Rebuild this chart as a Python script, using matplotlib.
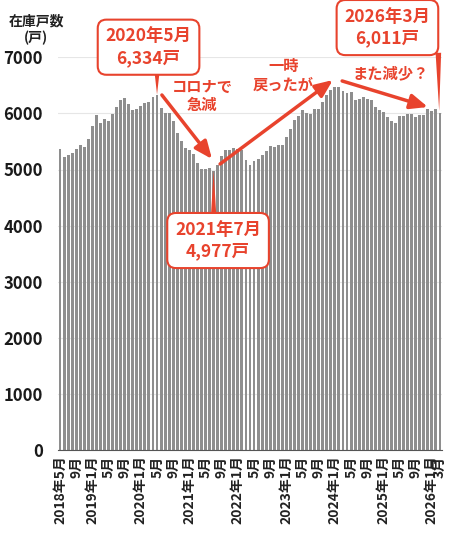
import matplotlib
matplotlib.use('Agg')
import matplotlib.pyplot as plt
import pandas as pd

plt.rcParams['font.family'] = ['Noto Sans CJK JP', 'DejaVu Sans']

# monthly inventory (units), 2018-05 .. 2026-03
months = pd.period_range('2018-05', '2026-03', freq='M')
stock = [5363, 5214, 5250, 5298, 5363, 5440, 5393, 5542, 5768, 5970, 5821, 5899,
         5863, 5982, 6113, 6238, 6280, 6161, 6060, 6077, 6125, 6185, 6202, 6298,
         6334, 6100, 6015, 6015, 5860, 5650, 5500, 5380, 5340, 5280, 5110, 5010,
         5010, 5025, 4977, 5089, 5235, 5350, 5350, 5390, 5360, 5350, 5167, 5077,
         5155, 5179, 5253, 5333, 5417, 5393, 5435, 5435, 5583, 5714, 5881, 5946,
         6060, 6000, 5988, 6083, 6083, 6202, 6327, 6420, 6476, 6464, 6400, 6360,
         6387, 6238, 6250, 6298, 6250, 6238, 6119, 6060, 6024, 5929, 5869, 5833,
         5958, 5958, 5988, 5988, 5940, 5970, 5970, 6071, 6042, 6077, 6011]

tick_idx = list(range(0, 93, 4)) + [94]
RED = '#e8432d'


def month_label(i):
    p = months[i]
    if i == 0 or p.month == 1:
        return f'{p.year}年{p.month}月'
    return f'{p.month}月'


fig = plt.figure(figsize=(4.5, 5.36), dpi=100)
ax = fig.add_axes([58 / 450, 86 / 536, 384 / 450, 392.7 / 536])

ax.bar(range(len(stock)), stock, width=0.72, color='#8e8e8e', zorder=2)
ax.set_xlim(-0.5, len(stock) - 0.5)
ax.set_ylim(0, 7000)
ax.set_yticks(range(0, 7001, 1000))
ax.yaxis.grid(True, color='#e6e6e6', lw=0.8)
ax.set_axisbelow(True)
for s in ['top', 'right', 'left']:
    ax.spines[s].set_visible(False)
ax.spines['bottom'].set_color('#555555')

ax.set_xticks(tick_idx)
ax.set_xticklabels([month_label(i) for i in tick_idx], rotation=90,
                   fontsize=10, fontweight='bold', color='#222222')
ax.tick_params(axis='x', length=0, pad=4)
ax.tick_params(axis='y', length=0, pad=11, labelsize=12, labelcolor='#1a1a1a')
for t in ax.get_yticklabels():
    t.set_fontweight('bold')

fig.text(36 / 450, 1 - 30 / 536, '在庫戸数\n(戸)', ha='center', va='center',
         fontsize=10, fontweight='bold', color='#222222', linespacing=1.15)


def callout(tx, ty, s, tail_from, tail_to):
    ax.annotate('', xy=tail_to, xytext=tail_from, annotation_clip=False,
                arrowprops=dict(arrowstyle='wedge,tail_width=0.4,shrink_factor=0.5',
                                color=RED, lw=0, shrinkA=0, shrinkB=0), zorder=4)
    ax.text(tx, ty, s, ha='center', va='center', fontsize=12.5, fontweight='bold',
            color=RED, linespacing=1.25, clip_on=False, zorder=6,
            bbox=dict(boxstyle='round,pad=0.45,rounding_size=0.5', fc='white',
                      ec=RED, lw=1.5))


def red_arrow(start, tip):
    ax.annotate('', xy=tip, xytext=start, annotation_clip=False,
                arrowprops=dict(arrowstyle='-|>,head_length=0.75,head_width=0.32',
                                color=RED, lw=2.5, mutation_scale=14,
                                shrinkA=0, shrinkB=0), zorder=5)


peak = 24
low = 38
last = len(stock) - 1

callout(21.9, 7180, f'{months[peak].year}年{months[peak].month}月\n{stock[peak]:,}戸',
        (peak, 6780), (peak, stock[peak]))
callout(39.1, 3734, f'{months[low].year}年{months[low].month}月\n{stock[low]:,}戸',
        (low, 4150), (low, stock[low]))
callout(81.0, 7530, f'{months[last].year}年{months[last].month}月\n{stock[last]:,}戸',
        (93.6, 7080), (93.8, stock[last] + 30))

red_arrow((25.2, 6328), (37.6, 5187))
red_arrow((39.6, 5098), (67.5, 6595))
red_arrow((69.8, 6578), (91.0, 6114))

ax.text(35.1, 6310, 'コロナで\n急減', ha='center', va='center', fontsize=11,
        fontweight='bold', color=RED, linespacing=1.2, zorder=6)
ax.text(55.2, 6684, '一時\n戻ったが', ha='center', va='center', fontsize=11,
        fontweight='bold', color=RED, linespacing=1.2, zorder=6)
ax.text(81.9, 6720, 'また減少？', ha='center', va='center', fontsize=11,
        fontweight='bold', color=RED, zorder=6)

fig.savefig('out.png', dpi=100)
